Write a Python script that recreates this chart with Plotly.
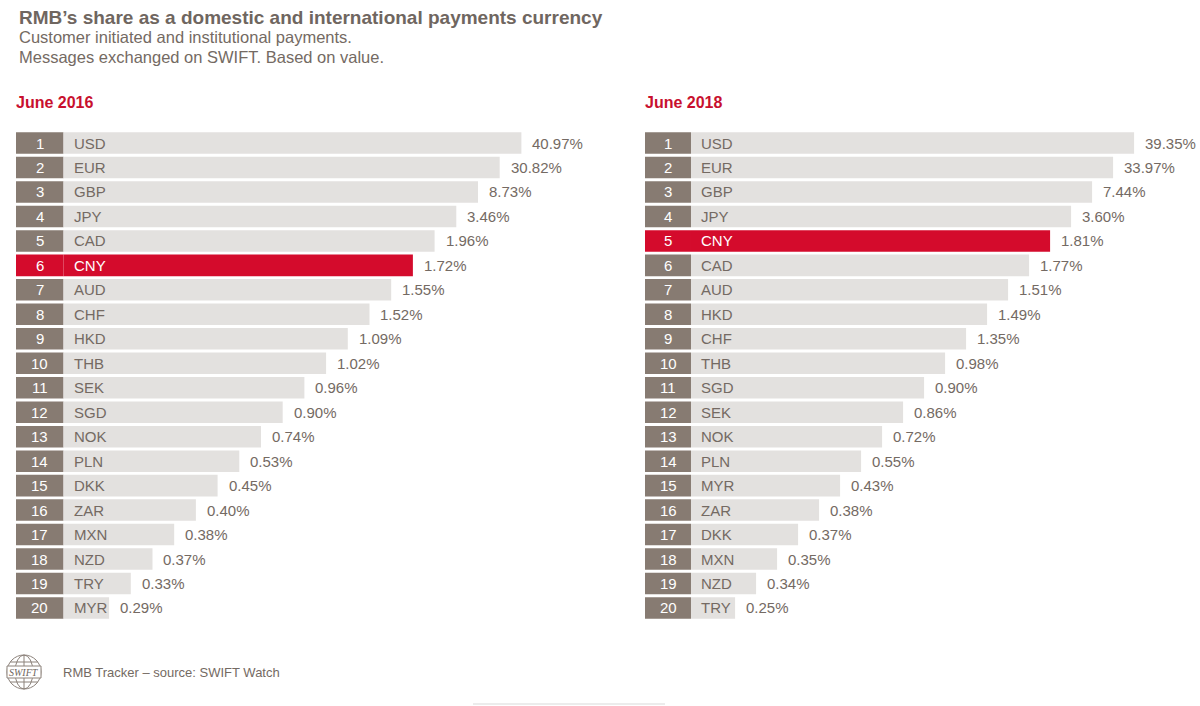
import plotly.graph_objects as go

# ---------------- data ----------------
ranks = list(range(1, 21))
cur_2016 = ["USD", "EUR", "GBP", "JPY", "CAD", "CNY", "AUD", "CHF", "HKD", "THB",
            "SEK", "SGD", "NOK", "PLN", "DKK", "ZAR", "MXN", "NZD", "TRY", "MYR"]
share_2016 = [40.97, 30.82, 8.73, 3.46, 1.96, 1.72, 1.55, 1.52, 1.09, 1.02,
              0.96, 0.90, 0.74, 0.53, 0.45, 0.40, 0.38, 0.37, 0.33, 0.29]
cur_2018 = ["USD", "EUR", "GBP", "JPY", "CNY", "CAD", "AUD", "HKD", "CHF", "THB",
            "SGD", "SEK", "NOK", "PLN", "MYR", "ZAR", "DKK", "MXN", "NZD", "TRY"]
share_2018 = [39.35, 33.97, 7.44, 3.60, 1.81, 1.77, 1.51, 1.49, 1.35, 0.98,
              0.90, 0.86, 0.72, 0.55, 0.43, 0.38, 0.37, 0.35, 0.34, 0.25]
panel_titles = ["June 2016", "June 2018"]
highlight = "CNY"

# ---------------- style ----------------
FONT = "Liberation Sans, Arial, sans-serif"
DARK = "#877b72"
GREY = "#e3e1df"
RED = "#d40b2c"
TXT = "#746a63"
TITLE_C = "#6f6660"
HEAD_RED = "#c8102e"
W, H = 1200, 706
BOX_W = 2.19      # rank box width (axis units)
LEN_TOP = 22.1    # staircase length reference (bars are ranked, not scaled)
XR = 26

fig = go.Figure()

panels = [
    (cur_2016, share_2016, "x", "y", [16 / W, (16 + XR * 21.7) / W]),
    (cur_2018, share_2018, "x2", "y2", [645 / W, (645 + XR * 21.0) / W]),
]

ydom = [1 - 620.2 / H, 1 - 130.8 / H]
annotations = []

for pi, (curs, shares, xa, ya, xdom) in enumerate(panels):
    box_cols = [RED if c == highlight else DARK for c in curs]
    bar_cols = [RED if c == highlight else GREY for c in curs]
    lengths = [LEN_TOP - r for r in ranks]
    fig.add_trace(go.Bar(y=ranks, x=[BOX_W] * len(ranks), base=0, orientation="h",
                         marker=dict(color=box_cols, line=dict(width=0)), width=0.88,
                         xaxis=xa, yaxis=ya, hoverinfo="skip", showlegend=False))
    fig.add_trace(go.Bar(y=ranks, x=lengths, base=BOX_W, orientation="h",
                         marker=dict(color=bar_cols, line=dict(width=0)), width=0.88,
                         xaxis=xa, yaxis=ya, hoverinfo="skip", showlegend=False))
    for r, c, s, L in zip(ranks, curs, shares, lengths):
        hl = c == highlight
        annotations.append(dict(x=BOX_W / 2, y=r, xref=xa, yref=ya, text=str(r),
                                showarrow=False, xanchor="center", yanchor="middle",
                                font=dict(family=FONT, size=15, color="white")))
        annotations.append(dict(x=BOX_W, y=r, xref=xa, yref=ya, text=c, xshift=8,
                                showarrow=False, xanchor="left", yanchor="middle",
                                font=dict(family=FONT, size=15, color="white" if hl else TXT)))
        annotations.append(dict(x=BOX_W + L, y=r, xref=xa, yref=ya, text=f"{s:.2f}%",
                                xshift=9, showarrow=False, xanchor="left", yanchor="middle",
                                font=dict(family=FONT, size=15, color=TXT)))
    annotations.append(dict(x=xdom[0] - 2 / W, y=1 - 103 / H, xref="paper", yref="paper",
                            text=f"<b>{panel_titles[pi]}</b>", showarrow=False,
                            xanchor="left", yanchor="middle",
                            font=dict(family=FONT, size=16, color=HEAD_RED)))

# titles
annotations += [
    dict(x=17 / W, y=1 - 17 / H, xref="paper", yref="paper",
         text="<b>RMB’s share as a domestic and international payments currency</b>",
         showarrow=False, xanchor="left", yanchor="middle",
         font=dict(family=FONT, size=19, color=TITLE_C)),
    dict(x=17 / W, y=1 - 37 / H, xref="paper", yref="paper",
         text="Customer initiated and institutional payments.",
         showarrow=False, xanchor="left", yanchor="middle",
         font=dict(family=FONT, size=16.5, color=TXT)),
    dict(x=17 / W, y=1 - 57 / H, xref="paper", yref="paper",
         text="Messages exchanged on SWIFT. Based on value.",
         showarrow=False, xanchor="left", yanchor="middle",
         font=dict(family=FONT, size=16.5, color=TXT)),
    dict(x=61 / W, y=1 - 672 / H, xref="paper", yref="paper",
         text="RMB Tracker – source: SWIFT Watch",
         showarrow=False, xanchor="left", yanchor="middle",
         font=dict(family=FONT, size=13, color=TXT)),
]

# SWIFT globe logo (paper-pixel coords)
LC = "#8c827b"
cx, cy, rad = 24, 672, 17
def px(x):
    return x / W
def py(y):
    return 1 - y / H
shapes = [
    dict(type="circle", xref="paper", yref="paper", x0=px(cx - rad), x1=px(cx + rad),
         y0=py(cy + rad), y1=py(cy - rad), line=dict(color=LC, width=1)),
    dict(type="circle", xref="paper", yref="paper", x0=px(cx - 9), x1=px(cx + 9),
         y0=py(cy + rad), y1=py(cy - rad), line=dict(color=LC, width=1)),
    dict(type="line", xref="paper", yref="paper", x0=px(cx), x1=px(cx),
         y0=py(cy + rad), y1=py(cy - rad), line=dict(color=LC, width=1)),
    dict(type="line", xref="paper", yref="paper", x0=px(cx - 14), x1=px(cx + 14),
         y0=py(cy - 10), y1=py(cy - 10), line=dict(color=LC, width=1)),
    dict(type="line", xref="paper", yref="paper", x0=px(cx - 14), x1=px(cx + 14),
         y0=py(cy + 10), y1=py(cy + 10), line=dict(color=LC, width=1)),
    dict(type="rect", xref="paper", yref="paper", x0=px(cx - 17), x1=px(cx + 17),
         y0=py(cy + 6), y1=py(cy - 6), fillcolor="white", line=dict(color=LC, width=1)),
    dict(type="line", xref="paper", yref="paper", x0=px(473), x1=px(665),
         y0=py(704), y1=py(704), line=dict(color="#ececec", width=2)),
]
annotations.append(dict(x=px(cx), y=py(cy), xref="paper", yref="paper",
                        text="<i>SWIFT</i>", showarrow=False, xanchor="center",
                        yanchor="middle",
                        font=dict(family="Liberation Serif, serif", size=10, color="#6f6660")))

axis_common = dict(showgrid=False, zeroline=False, showticklabels=False,
                   showline=False, fixedrange=True)
fig.update_layout(
    width=W, height=H, margin=dict(l=0, r=0, t=0, b=0),
    paper_bgcolor="white", plot_bgcolor="white",
    barmode="overlay", showlegend=False,
    xaxis=dict(domain=panels[0][4], range=[0, XR], **axis_common),
    yaxis=dict(domain=ydom, range=[20.5, 0.5], **axis_common),
    xaxis2=dict(domain=panels[1][4], range=[0, XR], anchor="y2", **axis_common),
    yaxis2=dict(domain=ydom, range=[20.5, 0.5], anchor="x2", **axis_common),
    annotations=annotations, shapes=shapes,
)
fig.write_html("out.html", config={"displayModeBar": False},
               post_script="document.body.style.margin='0';document.body.style.overflow='hidden';")
